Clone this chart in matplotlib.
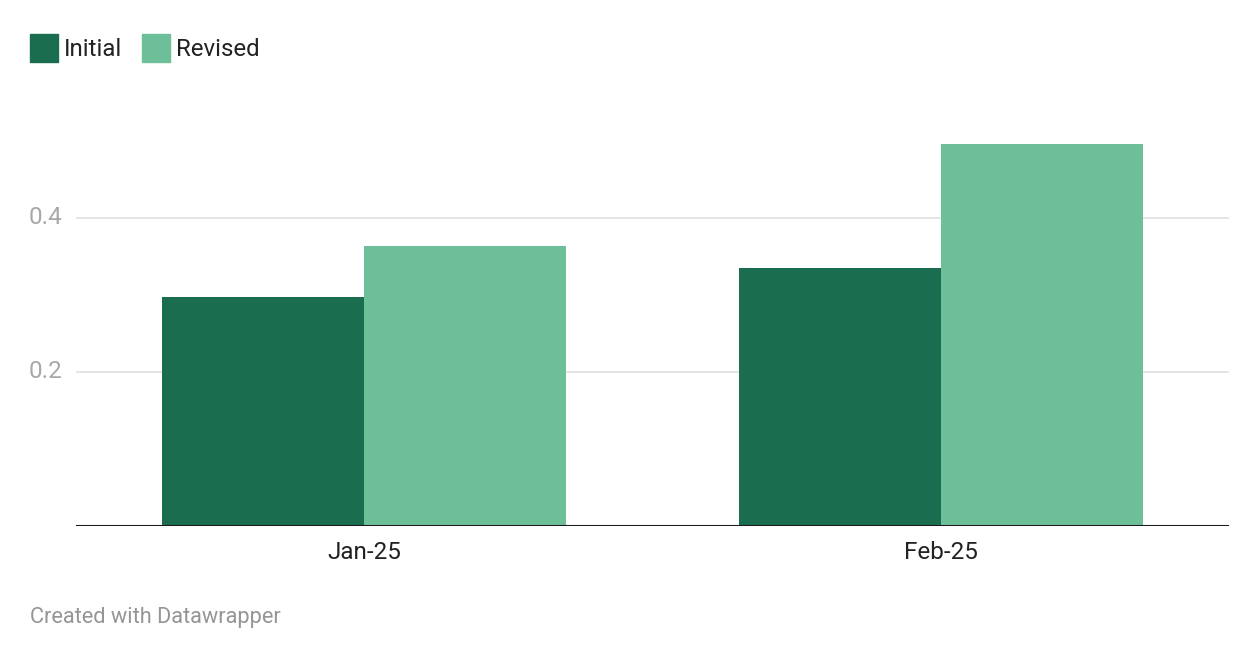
import matplotlib.pyplot as plt
import numpy as np
from matplotlib.patches import Rectangle

plt.rcParams["font.family"] = ["Roboto", "DejaVu Sans"]

categories = ["Jan-25", "Feb-25"]
initial = [0.297, 0.335]
revised = [0.364, 0.496]
series_names = ["Initial", "Revised"]
colors = ["#1a6d4e", "#6dbf9a"]

W, H = 1260, 660
fig = plt.figure(figsize=(W / 100, H / 100), dpi=100)

# axes placed in pixel terms: x 76..1229, baseline at y=526
left, right = 76, 1229
base, top = 526, 141
ax = fig.add_axes([left / W, (H - base) / H, (right - left) / W, (base - top) / H])

x = np.arange(len(categories))
width = 0.35
ax.bar(x - width / 2, initial, width, color=colors[0], align="center", zorder=2)
ax.bar(x + width / 2, revised, width, color=colors[1], align="center", zorder=2)

ax.set_xlim(-0.5, 1.5)
ax.set_ylim(0, 0.5)

for v in [0.2, 0.4]:
    ax.axhline(v, color="#e3e3e3", linewidth=1.3, zorder=1)
    ax.text(-0.523, v, f"{v:.1f}", ha="right", va="center", fontsize=17.5,
            color="#a8a8a8", clip_on=False)
ax.axhline(0, color="#1a1a1a", linewidth=2.2, zorder=3)

ax.set_yticks([])
ax.set_xticks(x)
ax.set_xticklabels(categories, fontsize=17.5, color="#222222")
ax.tick_params(axis="x", length=0, pad=11)
for s in ax.spines.values():
    s.set_visible(False)

# legend drawn as figure patches
lx = [30, 142]
for i, name in enumerate(series_names):
    fig.patches.append(Rectangle((lx[i] / W, (H - 62) / H), 28 / W, 28 / H,
                                 transform=fig.transFigure, color=colors[i]))
    fig.text((lx[i] + 34) / W, (H - 50) / H, name, fontsize=17.3,
             color="#222222", ha="left", va="center")

fig.text(30 / W, (H - 618) / H, "Created with Datawrapper", fontsize=15.7,
         color="#959595", ha="left", va="center")

fig.savefig("out.png", dpi=100)
